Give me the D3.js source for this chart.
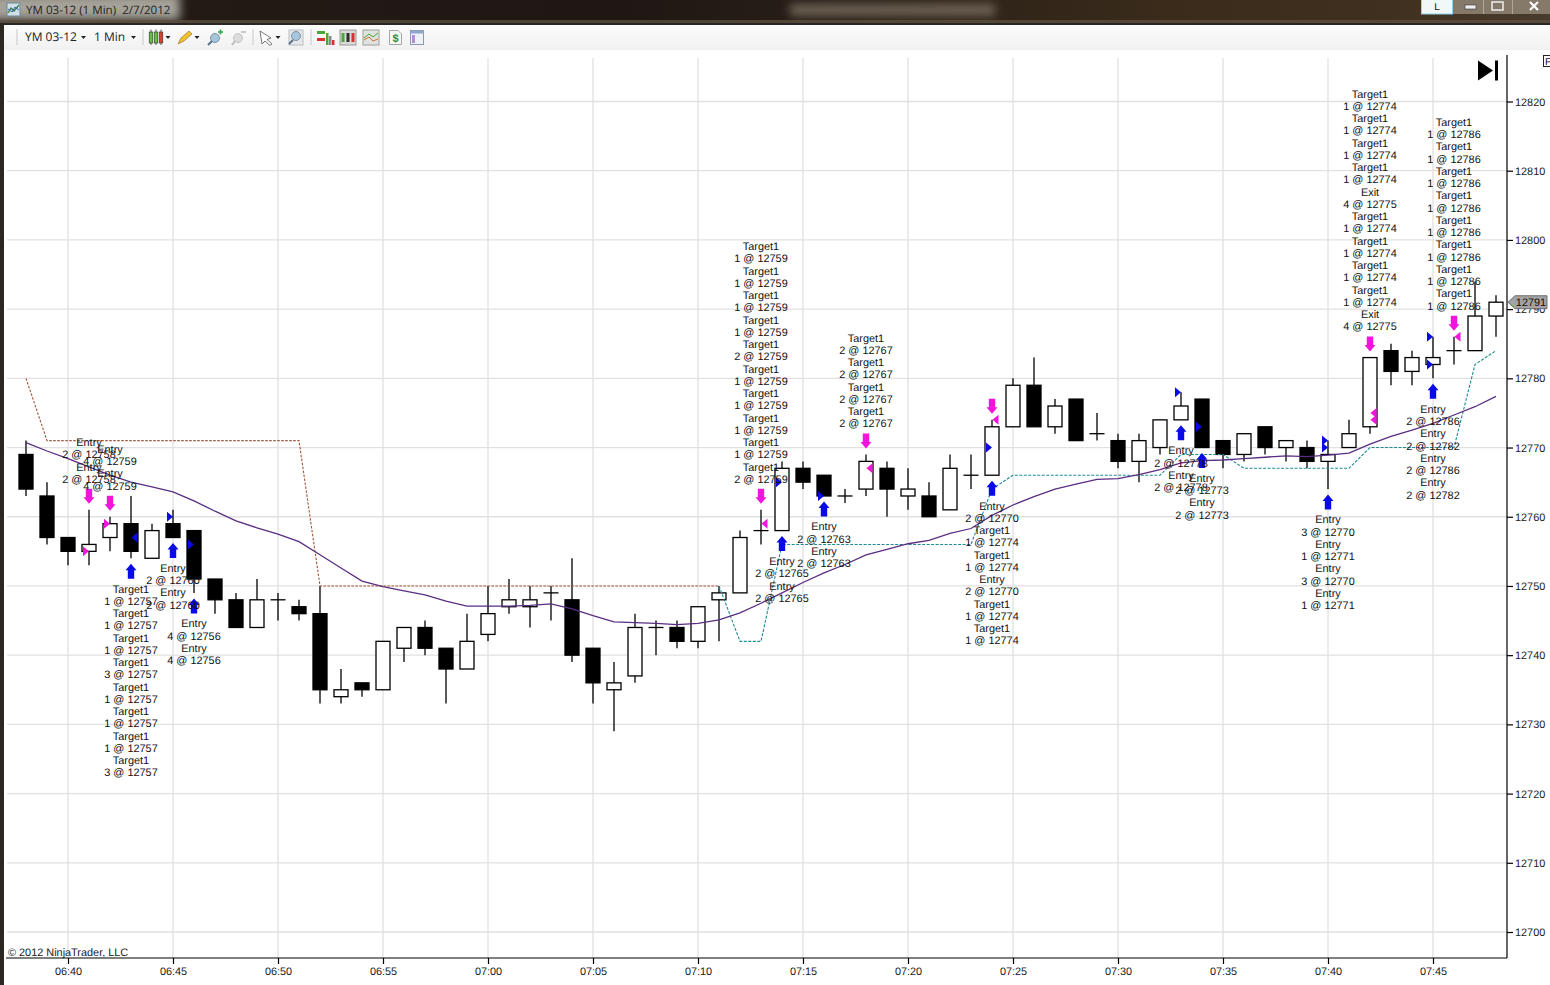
<!DOCTYPE html>
<html>
<head>
<meta charset="utf-8">
<title>YM 03-12 (1 Min) 2/7/2012</title>
<script src="https://d3js.org/d3.v7.min.js"></script>
<style>
html, body { margin: 0; padding: 0; background: #fff; overflow: hidden; }
svg { display: block; }
text { font-family: "Liberation Sans", Arial, sans-serif; text-rendering: geometricPrecision; }
.tick text { font-size: 10.9px; fill: #1c1c1c; }
.tick line { stroke: #000; stroke-width: 1.2px; }
.lbl { font-size: 10.9px; fill: #111; text-anchor: middle; }
.ui { font-family: "Open Sans", sans-serif; font-size: 12px; fill: #222; }
</style>
</head>
<body>
<script>
// one candle a minute, 06:38 to 07:48
var firstBar = "06:38";
var opens  = [12769,12763,12757,12755,12757,12759,12754,12759,12758,12751,12748,12744,12748,12747,12746,12734,12736,12735,12741,12744,12741,12738,12743,12747,12747,12749,12748,12741,12735,12737,12744,12744,12742,12748,12749,12758,12758,12767,12766,12763,12764,12767,12763,12763,12761,12766,12766,12773,12779,12773,12777,12772,12771,12768,12770,12774,12777,12771,12769,12773,12770,12770,12768,12770,12773,12784,12781,12782,12784,12784,12789];
var highs  = [12771,12765,12757,12761,12760,12763,12759,12761,12758,12751,12749,12751,12749,12748,12750,12738,12736,12742,12744,12745,12741,12746,12750,12751,12750,12750,12754,12741,12739,12746,12745,12745,12747,12750,12758,12761,12768,12768,12766,12764,12769,12768,12767,12765,12769,12769,12774,12780,12783,12777,12777,12775,12772,12772,12774,12778,12777,12771,12772,12773,12771,12771,12771,12774,12783,12785,12784,12786,12786,12794,12792];
var lows   = [12763,12756,12753,12753,12755,12754,12754,12757,12749,12746,12744,12744,12745,12745,12733,12733,12734,12735,12739,12740,12733,12738,12742,12746,12744,12745,12739,12733,12729,12736,12740,12741,12741,12742,12749,12756,12758,12764,12763,12762,12763,12760,12761,12760,12761,12764,12766,12773,12773,12772,12771,12771,12767,12765,12769,12774,12770,12767,12768,12769,12768,12767,12764,12770,12772,12779,12779,12780,12782,12784,12786];
var closes = [12764,12757,12755,12756,12759,12755,12758,12757,12751,12748,12744,12748,12748,12746,12735,12735,12735,12742,12744,12741,12738,12742,12746,12748,12748,12749,12740,12736,12736,12744,12744,12742,12747,12749,12757,12758,12767,12765,12763,12763,12768,12764,12764,12760,12767,12766,12773,12779,12773,12776,12771,12772,12768,12771,12774,12776,12770,12769,12772,12770,12771,12768,12769,12772,12783,12781,12783,12783,12784,12789,12791];

// moving average, same minutes as the candles
var maValues = [12770.7,12769.5,12768.4,12767.2,12766.0,12765.0,12764.3,12763.6,12762.3,12760.8,12759.4,12758.4,12757.5,12756.4,12754.5,12752.6,12750.7,12749.9,12749.3,12748.7,12747.8,12747.1,12747.1,12747.1,12747.2,12747.4,12746.7,12745.7,12744.8,12744.7,12744.6,12744.4,12744.6,12745.1,12746.1,12747.5,12749.0,12750.5,12751.9,12753.1,12754.5,12755.3,12756.1,12756.6,12757.6,12758.3,12760.2,12761.7,12762.9,12764.0,12764.7,12765.4,12765.5,12766.1,12766.8,12767.8,12768.1,12768.2,12768.4,12768.6,12768.8,12768.7,12768.9,12769.2,12770.5,12771.6,12772.5,12773.5,12774.7,12775.9,12777.4];

// stop line, brown while short and teal while long
var stopShortTimes  = ["06:38","06:39","06:51","06:52","07:11"];
var stopShortValues = [12780,12771,12771,12750,12750];
var stopLongTimes  = ["07:11","07:12","07:13","07:14","07:23","07:24","07:25","07:32","07:33","07:35","07:36","07:41","07:42","07:46","07:47","07:48"];
var stopLongValues = [12750,12742,12742,12756,12756,12764,12766,12766,12769,12769,12767,12767,12770,12770,12782,12784];

var yTicks = d3.range(12700, 12821, 10);
var xTickTimes = ["06:40","06:45","06:50","06:55","07:00","07:05","07:10","07:15","07:20","07:25","07:30","07:35","07:40","07:45"];
var lastPrice = 12791;

// arrows sit off the wick of the bar they belong to
var arrowsDown = ["06:41","06:42","07:13","07:18","07:24","07:42","07:46"];
var arrowsUp   = ["06:43","06:45","06:46","07:14","07:16","07:24","07:33","07:34","07:40","07:45"];

// fill triangles on the bars
var pinkTimes  = ["06:41","06:42","07:13","07:18","07:24","07:42","07:42","07:46"];
var pinkPrices = [12755,12759,12759,12767,12774,12775,12774,12786];
var pinkPoints = ["r","r","l","l","l","l","l","l"];
var blueTimes  = ["06:43","06:45","06:46","07:14","07:16","07:24","07:33","07:34","07:40","07:40","07:45","07:45"];
var bluePrices = [12757,12760,12756,12765,12763,12770,12778,12773,12771,12770,12786,12782];
var bluePoints = ["l","r","r","r","r","r","r","r","r","r","r","r"];

// trade labels
var labelsAbove = [
  ["06:41", ["Entry","2 @ 12758","Entry","2 @ 12758"]],
  ["06:42", ["Entry","4 @ 12759","Entry","4 @ 12759"]],
  ["07:13", ["Target1","1 @ 12759","Target1","1 @ 12759","Target1","1 @ 12759","Target1","1 @ 12759","Target1","2 @ 12759","Target1","1 @ 12759","Target1","1 @ 12759","Target1","1 @ 12759","Target1","1 @ 12759","Target1","2 @ 12759"]],
  ["07:18", ["Target1","2 @ 12767","Target1","2 @ 12767","Target1","2 @ 12767","Target1","2 @ 12767"]],
  ["07:42", ["Target1","1 @ 12774","Target1","1 @ 12774","Target1","1 @ 12774","Target1","1 @ 12774","Exit","4 @ 12775","Target1","1 @ 12774","Target1","1 @ 12774","Target1","1 @ 12774","Target1","1 @ 12774","Exit","4 @ 12775"]],
  ["07:46", ["Target1","1 @ 12786","Target1","1 @ 12786","Target1","1 @ 12786","Target1","1 @ 12786","Target1","1 @ 12786","Target1","1 @ 12786","Target1","1 @ 12786","Target1","1 @ 12786"]]
];
var labelsBelow = [
  ["06:43", ["Target1","1 @ 12757","Target1","1 @ 12757","Target1","1 @ 12757","Target1","3 @ 12757","Target1","1 @ 12757","Target1","1 @ 12757","Target1","1 @ 12757","Target1","3 @ 12757"]],
  ["06:45", ["Entry","2 @ 12760","Entry","2 @ 12760"]],
  ["06:46", ["Entry","4 @ 12756","Entry","4 @ 12756"]],
  ["07:14", ["Entry","2 @ 12765","Entry","2 @ 12765"]],
  ["07:16", ["Entry","2 @ 12763","Entry","2 @ 12763"]],
  ["07:24", ["Entry","2 @ 12770","Target1","1 @ 12774","Target1","1 @ 12774","Entry","2 @ 12770","Target1","1 @ 12774","Target1","1 @ 12774"]],
  ["07:33", ["Entry","2 @ 12778","Entry","2 @ 12778"]],
  ["07:34", ["Entry","2 @ 12773","Entry","2 @ 12773"]],
  ["07:40", ["Entry","3 @ 12770","Entry","1 @ 12771","Entry","3 @ 12770","Entry","1 @ 12771"]],
  ["07:45", ["Entry","2 @ 12786","Entry","2 @ 12782","Entry","2 @ 12786","Entry","2 @ 12782"]]
];

var width = 1550, height = 985;
var plotLeft = 7, plotRight = 1507, plotTop = 55, plotBottom = 958;
var lineStep = 12.25;

var parseTime = d3.timeParse("%H:%M");
var fmtTime = d3.timeFormat("%H:%M");

var x = d3.scaleTime()
    .domain([parseTime("06:40"), parseTime("07:45")])
    .range([68, 1433]);
var y = d3.scaleLinear()
    .domain([12700, 12820])
    .range([932, 101.5]);

var barTimes = opens.map(function(d, i) { return d3.timeMinute.offset(parseTime(firstBar), i); });
var bars = opens.map(function(d, i) {
    return { t: barTimes[i], o: d, h: highs[i], l: lows[i], c: closes[i] };
});
function barAt(s) { return bars[d3.bisectLeft(barTimes, parseTime(s))]; }

var svg = d3.select("body").append("svg")
    .attr("width", width)
    .attr("height", height)
    .attr("viewBox", "0 0 " + width + " " + height);

var defs = svg.append("defs");
defs.append("filter").attr("id", "blur6").attr("x", "-30%").attr("y", "-60%").attr("width", "160%").attr("height", "220%")
    .append("feGaussianBlur").attr("stdDeviation", 5);
var tbGrad = defs.append("linearGradient").attr("id", "barGrad");
[["0%","#241b15"],["40%","#1e1713"],["60%","#2c2218"],["75%","#3a2b1b"],["90%","#3f3020"],["100%","#4a3c2c"]].forEach(function(s) {
    tbGrad.append("stop").attr("offset", s[0]).attr("stop-color", s[1]);
});
var toolGrad = defs.append("linearGradient").attr("id", "toolGrad").attr("x2", 0).attr("y2", 1);
toolGrad.append("stop").attr("offset", "0%").attr("stop-color", "#fcfcfc");
toolGrad.append("stop").attr("offset", "100%").attr("stop-color", "#f1f1f1");

drawGrid();
drawCandles();
drawLines();
drawMarkers();
drawLabels();
drawAxes();
drawChrome();

function drawGrid() {
    var g = svg.append("g").attr("class", "grid");
    g.selectAll("line.h").data(yTicks).enter().append("line")
        .attr("class", "h")
        .attr("x1", plotLeft).attr("x2", plotRight)
        .attr("y1", function(d) { return y(d); }).attr("y2", function(d) { return y(d); })
        .attr("stroke", "#e1e1e1").attr("stroke-width", 1.3);
    g.selectAll("line.v").data(xTickTimes).enter().append("line")
        .attr("class", "v")
        .attr("y1", 58).attr("y2", plotBottom)
        .attr("x1", function(d) { return x(parseTime(d)); }).attr("x2", function(d) { return x(parseTime(d)); })
        .attr("stroke", "#e1e1e1").attr("stroke-width", 1.3);
}

function drawCandles() {
    var bodyW = 14;
    var g = svg.append("g").attr("class", "candles");
    var bar = g.selectAll("g").data(bars).enter().append("g")
        .attr("transform", function(d) { return "translate(" + x(d.t) + ",0)"; });
    bar.append("line")
        .attr("y1", function(d) { return y(d.h); })
        .attr("y2", function(d) { return y(d.l); })
        .attr("stroke", "#000").attr("stroke-width", 1.3);
    bar.filter(function(d) { return d.o === d.c; }).append("line")
        .attr("x1", -bodyW / 2 - 0.5).attr("x2", bodyW / 2 + 0.5)
        .attr("y1", function(d) { return y(d.c); }).attr("y2", function(d) { return y(d.c); })
        .attr("stroke", "#000").attr("stroke-width", 1.3);
    bar.filter(function(d) { return d.o !== d.c; }).append("rect")
        .attr("x", -bodyW / 2).attr("width", bodyW)
        .attr("y", function(d) { return y(Math.max(d.o, d.c)); })
        .attr("height", function(d) { return Math.abs(y(d.o) - y(d.c)); })
        .attr("fill", function(d) { return d.c < d.o ? "#000" : "#fff"; })
        .attr("stroke", "#000").attr("stroke-width", 1.3);
}

function drawLines() {
    var timeLine = d3.line()
        .x(function(d) { return x(d[0]); })
        .y(function(d) { return y(d[1]); });
    var g = svg.append("g").attr("class", "lines").attr("fill", "none");
    g.append("path")
        .attr("d", timeLine(stopShortTimes.map(function(t, i) { return [parseTime(t), stopShortValues[i]]; })))
        .attr("stroke", "#a4553a").attr("stroke-width", 1.1).attr("stroke-dasharray", "2.5,1.5");
    g.append("path")
        .attr("d", timeLine(stopLongTimes.map(function(t, i) { return [parseTime(t), stopLongValues[i]]; })))
        .attr("stroke", "#1f8a96").attr("stroke-width", 1.1).attr("stroke-dasharray", "3,1.5");
    g.append("path")
        .attr("d", timeLine(barTimes.map(function(t, i) { return [t, maValues[i]]; })))
        .attr("stroke", "#5a2d82").attr("stroke-width", 1.3);
}

function drawMarkers() {
    var g = svg.append("g").attr("class", "markers");
    // arrow drawn pointing up around its own tip
    var arrow = "M0,0L5.5,6.5H3.2V15H-3.2V6.5H-5.5Z";
    g.selectAll("path.up").data(arrowsUp).enter().append("path")
        .attr("class", "up")
        .attr("d", arrow)
        .attr("fill", "#0a0ae6")
        .attr("transform", function(d) {
            var b = barAt(d);
            return "translate(" + x(b.t) + "," + (y(b.l) + 5.5) + ")";
        });
    g.selectAll("path.down").data(arrowsDown).enter().append("path")
        .attr("class", "down")
        .attr("d", arrow)
        .attr("fill", "#f014dc")
        .attr("transform", function(d) {
            var b = barAt(d);
            return "translate(" + x(b.t) + "," + (y(b.h) - 6) + ") scale(1,-1)";
        });

    function triangles(times, prices, points, colour) {
        g.selectAll(null).data(times).enter().append("path")
            .attr("d", function(d, i) {
                return points[i] === "r" ? "M-6,-5L0,0L-6,5Z" : "M6.5,-5L0.5,0L6.5,5Z";
            })
            .attr("fill", colour)
            .attr("transform", function(d, i) {
                return "translate(" + x(parseTime(d)) + "," + y(prices[i]) + ")";
            });
    }
    triangles(pinkTimes, pinkPrices, pinkPoints, "#f014dc");
    triangles(blueTimes, bluePrices, bluePoints, "#0a0ae6");
}

function drawLabels() {
    var g = svg.append("g").attr("class", "labels");
    labelsAbove.forEach(function(item) {
        var b = barAt(item[0]), n = item[1].length;
        g.selectAll(null).data(item[1]).enter().append("text")
            .attr("class", "lbl")
            .attr("x", x(b.t))
            .attr("y", function(d, i) { return y(b.h) - 31 - (n - 1 - i) * lineStep; })
            .attr("dy", "0.36em")
            .text(function(d) { return d; });
    });
    labelsBelow.forEach(function(item) {
        var b = barAt(item[0]);
        g.selectAll(null).data(item[1]).enter().append("text")
            .attr("class", "lbl")
            .attr("x", x(b.t))
            .attr("y", function(d, i) { return y(b.l) + 30.5 + i * lineStep; })
            .attr("dy", "0.36em")
            .text(function(d) { return d; });
    });
}

function drawAxes() {
    var yAxis = d3.axisRight(y).tickValues(yTicks).tickSize(6).tickPadding(2).tickFormat(d3.format("d"));
    var gy = svg.append("g").attr("transform", "translate(" + plotRight + ",0)").call(yAxis);
    gy.select(".domain").remove();
    var xAxis = d3.axisBottom(x).tickValues(xTickTimes.map(parseTime)).tickSize(6).tickPadding(3).tickFormat(fmtTime);
    var gx = svg.append("g").attr("transform", "translate(0," + plotBottom + ")").call(xAxis);
    gx.select(".domain").remove();

    svg.append("line").attr("x1", plotRight).attr("x2", plotRight).attr("y1", plotTop).attr("y2", plotBottom)
        .attr("stroke", "#000").attr("stroke-width", 1.2);
    svg.append("line").attr("x1", 6).attr("x2", plotRight).attr("y1", plotBottom).attr("y2", plotBottom)
        .attr("stroke", "#000").attr("stroke-width", 1.2);

    // last price tag
    var py = y(lastPrice);
    svg.append("path")
        .attr("d", "M1508," + py + "L1515," + (py - 6.5) + "H1547V" + (py + 6.5) + "H1515Z")
        .attr("fill", "#a3a3a3").attr("stroke", "#555").attr("stroke-width", 0.8);
    svg.append("text").attr("x", 1531).attr("y", py).attr("dy", "0.36em")
        .attr("text-anchor", "middle").attr("font-size", 10.9).attr("fill", "#111")
        .text(lastPrice);

    svg.append("text").attr("x", 8).attr("y", 956)
        .attr("font-size", 10.9).attr("fill", "#222")
        .text("\u00a9 2012 NinjaTrader, LLC");

    // jump to last bar button
    svg.append("path").attr("d", "M1478,60.5L1493,70.5L1478,80.5Z").attr("fill", "#000");
    svg.append("rect").attr("x", 1495).attr("y", 60.5).attr("width", 3).attr("height", 20).attr("fill", "#000");
    svg.append("rect").attr("x", 1543.5).attr("y", 55.5).attr("width", 10).attr("height", 11)
        .attr("fill", "#fff").attr("stroke", "#222");
    svg.append("text").attr("x", 1545).attr("y", 64.5).attr("font-size", 10).attr("fill", "#111").text("F");
}

function drawChrome() {
    var c = svg.append("g").attr("class", "chrome");
    c.append("rect").attr("width", width).attr("height", 23).attr("fill", "url(#barGrad)");
    c.append("rect").attr("x", -20).attr("y", -6).attr("width", 200).attr("height", 26)
        .attr("fill", "#a5a299").attr("filter", "url(#blur6)");
    c.append("rect").attr("x", 790).attr("y", 4).attr("width", 205).attr("height", 12)
        .attr("fill", "#6d6254").attr("filter", "url(#blur6)");
    c.append("rect").attr("y", 20).attr("width", width).attr("height", 3).attr("fill", "#5c5040").attr("opacity", 0.8);
    c.append("rect").attr("y", 23).attr("width", width).attr("height", 2).attr("fill", "#2a2622");
    c.append("rect").attr("x", 4).attr("y", 25).attr("width", width - 4).attr("height", 25).attr("fill", "url(#toolGrad)");
    c.append("rect").attr("y", 23).attr("width", 4).attr("height", height - 23).attr("fill", "#2c2722");

    // title
    c.append("rect").attr("x", 7).attr("y", 3).attr("width", 13).attr("height", 13).attr("fill", "#cfe0e8").attr("stroke", "#6d8797");
    c.append("path").attr("d", "M8,13L11,8L14,11L19,5").attr("fill", "none").attr("stroke", "#2f7a3a").attr("stroke-width", 1.2);
    c.append("path").attr("d", "M8,9L12,12L15,7L19,10").attr("fill", "none").attr("stroke", "#3a5fb0").attr("stroke-width", 1);
    c.append("text").attr("class", "ui").attr("x", 26).attr("y", 14).attr("font-size", 11.5).style("font-size", "11.6px").attr("xml:space", "preserve").text("YM 03-12 (1 Min)  2/7/2012");

    // window buttons
    c.append("rect").attr("x", 1421.5).attr("y", -2).attr("width", 31).attr("height", 16).attr("fill", "#f2f7f8").attr("stroke", "#8fd3e6");
    c.append("text").attr("x", 1437).attr("y", 10).attr("text-anchor", "middle").attr("font-size", 10).attr("fill", "#111").text("L");
    c.append("rect").attr("x", 1453).attr("y", -2).attr("width", 97).attr("height", 16).attr("fill", "#85796a");
    c.append("rect").attr("x", 1465).attr("y", 5).attr("width", 11).attr("height", 4).attr("fill", "#eee").attr("stroke", "#333").attr("stroke-width", 0.6);
    c.append("rect").attr("x", 1492).attr("y", 2).attr("width", 11).attr("height", 8).attr("fill", "none").attr("stroke", "#eee").attr("stroke-width", 1.5);
    c.append("path").attr("d", "M1530,2L1538,10M1538,2L1530,10").attr("stroke", "#fff").attr("stroke-width", 2.2);
    [1483.5, 1512.5].forEach(function(px) {
        c.append("line").attr("x1", px).attr("x2", px).attr("y1", 0).attr("y2", 14).attr("stroke", "#b0a696");
    });

    // toolbar
    [17, 143, 253, 311].forEach(function(px) {
        c.append("line").attr("x1", px).attr("x2", px).attr("y1", 29).attr("y2", 45).attr("stroke", "#c9c9c9");
    });
    c.append("text").attr("class", "ui").attr("x", 25).attr("y", 41).text("YM 03-12");
    c.append("text").attr("class", "ui").attr("x", 94).attr("y", 41).text("1 Min");
    [83.5, 133.5, 168, 197, 278].forEach(function(px) {
        c.append("path").attr("d", "M" + (px - 2.5) + ",36L" + (px + 2.5) + ",36L" + px + ",39Z").attr("fill", "#222");
    });
    // candle icon
    [[151, "#5fc23a"], [156, "#5fc23a"], [161, "#d8412f"]].forEach(function(d) {
        c.append("path").attr("d", "M" + d[0] + ",29.5V45").attr("stroke", "#333").attr("stroke-width", 0.8);
        c.append("rect").attr("x", d[0] - 1.8).attr("y", 32).attr("width", 3.6).attr("height", 11).attr("fill", d[1]).attr("stroke", "#333").attr("stroke-width", 0.6);
    });
    // pencil
    c.append("path").attr("d", "M178,44L181,38L189,31L192,34L184,41Z").attr("fill", "#eec22f").attr("stroke", "#a5722a").attr("stroke-width", 0.7);
    // zoom in and out
    c.append("circle").attr("cx", 215).attr("cy", 38).attr("r", 4.5).attr("fill", "#a7c5dd").attr("stroke", "#7d93a6");
    c.append("line").attr("x1", 212).attr("y1", 41).attr("x2", 208).attr("y2", 45).attr("stroke", "#5a7288").attr("stroke-width", 2);
    c.append("path").attr("d", "M218,32H223M220.5,29.5V34.5").attr("stroke", "#2aa84a").attr("stroke-width", 1.6);
    c.append("circle").attr("cx", 238).attr("cy", 38).attr("r", 4.5).attr("fill", "#dcdcdc").attr("stroke", "#c4c4c4");
    c.append("line").attr("x1", 235).attr("y1", 41).attr("x2", 232).attr("y2", 45).attr("stroke", "#bbb").attr("stroke-width", 2);
    c.append("path").attr("d", "M241,32H246").attr("stroke", "#bbb").attr("stroke-width", 1.6);
    // cursor
    c.append("path").attr("d", "M260,31L271,38L267,39.5L272,44L270,45.5L265,41L262,44Z").attr("fill", "#fff").attr("stroke", "#555").attr("stroke-width", 0.8);
    // magnifier
    c.append("rect").attr("x", 289).attr("y", 30).attr("width", 14).attr("height", 15).attr("fill", "#e6e8ea").attr("stroke", "#b8bec4");
    c.append("circle").attr("cx", 296).attr("cy", 36).attr("r", 4.5).attr("fill", "#a7c5dd").attr("stroke", "#7d93a6");
    c.append("line").attr("x1", 293).attr("y1", 40).attr("x2", 289).attr("y2", 44).attr("stroke", "#5a7288").attr("stroke-width", 2);
    // strategy icon
    c.append("rect").attr("x", 317).attr("y", 31).attr("width", 8).attr("height", 3).attr("fill", "#4aa83a");
    c.append("rect").attr("x", 317).attr("y", 38).attr("width", 8).attr("height", 3).attr("fill", "#d8312f");
    [[326, 33, 12, "#4aa83a"], [329, 36, 9, "#8a8a8a"], [332, 40, 5, "#d8312f"]].forEach(function(d) {
        c.append("rect").attr("x", d[0]).attr("y", d[1]).attr("width", 2.5).attr("height", d[2]).attr("fill", d[3]);
    });
    // bars icon
    c.append("rect").attr("x", 340).attr("y", 30).attr("width", 16).attr("height", 15).attr("fill", "#d9d9d9").attr("stroke", "#9a9a9a");
    [[343, "#4aa83a"], [348, "#2e2e2e"], [353, "#d8312f"]].forEach(function(d) {
        c.append("rect").attr("x", d[0] - 1.5).attr("y", 33).attr("width", 3).attr("height", 9).attr("fill", d[1]);
    });
    // indicators icon
    c.append("rect").attr("x", 363).attr("y", 30).attr("width", 16).attr("height", 15).attr("fill", "#dfe3df").attr("stroke", "#9aa09a");
    c.append("path").attr("d", "M364,38L369,34L373,37L378,33").attr("fill", "none").attr("stroke", "#4aa83a");
    c.append("path").attr("d", "M364,40L369,37L373,41L378,39").attr("fill", "none").attr("stroke", "#d8712f");
    // dollar page
    c.append("path").attr("d", "M389.5,30.5H398L401.5,34V44.5H389.5Z").attr("fill", "#f7f7f7").attr("stroke", "#a5a5a5");
    c.append("text").attr("x", 395.5).attr("y", 42).attr("text-anchor", "middle").attr("font-size", 11).attr("font-weight", "bold").attr("fill", "#2e8f3a").text("$");
    // properties
    c.append("rect").attr("x", 410.5).attr("y", 30.5).attr("width", 13).attr("height", 14).attr("fill", "#eef1f6").attr("stroke", "#8a9ab2");
    c.append("rect").attr("x", 410.5).attr("y", 30.5).attr("width", 13).attr("height", 3).attr("fill", "#8ea6c8");
    c.append("rect").attr("x", 412).attr("y", 35).attr("width", 3).attr("height", 8).attr("fill", "#b48fd0");
}
</script>
</body>
</html>
